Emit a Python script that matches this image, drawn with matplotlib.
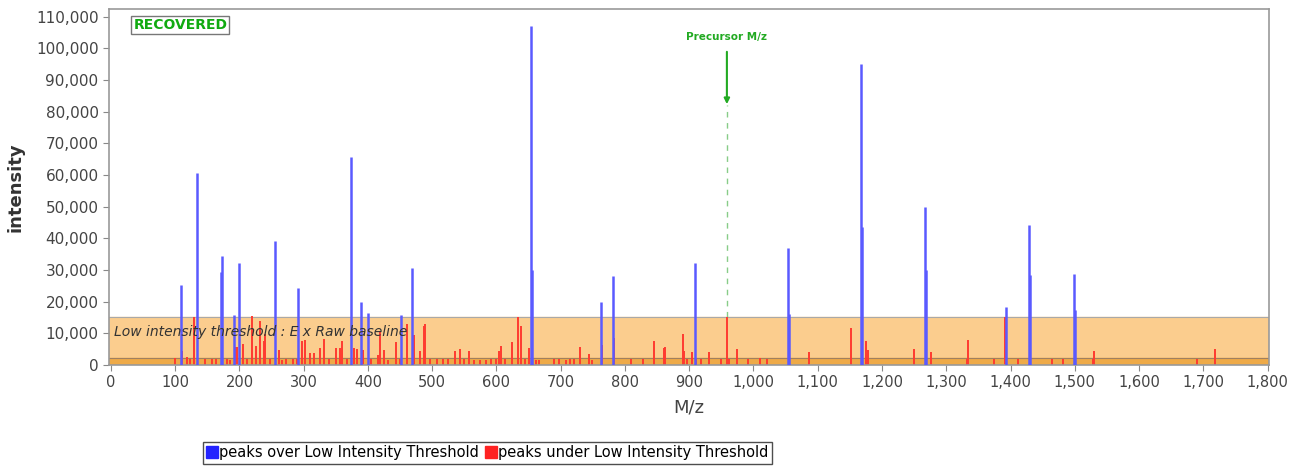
import matplotlib.pyplot as plt
from matplotlib.ticker import FuncFormatter
from matplotlib.lines import Line2D

# peaks above the low intensity threshold (m/z, intensity)
blue_mz = [109, 134, 172, 173.5, 191, 199, 255, 291, 373, 389, 399.5, 452, 469,
           654, 655, 763, 781, 909, 1054, 1055, 1168, 1169, 1267, 1268,
           1393, 1429, 1430, 1499, 1500]
blue_int = [25300, 60700, 29500, 34500, 15800, 32300, 39300, 24200, 65700, 19800, 16400,
            15900, 30700, 107200, 30000, 19900, 28000, 32200, 36800, 16200, 95000, 43700,
            50000, 30000, 18300, 44100, 28300, 28800, 17400]

# peaks below the threshold
red_mz = [99.5, 110, 118, 123, 128.5, 146, 156.5, 164, 180, 185, 193, 196, 205.7, 212,
          219.7, 226.5, 232.7, 237.8, 240.5, 247, 261.7, 266, 272, 283.5, 290, 298, 302.6,
          309, 315.5, 325, 331, 340, 351, 357, 359.5, 368, 377.7, 383.4, 392, 405, 415, 418,
          425, 431, 443, 450, 460, 471, 480.3, 487, 488.6, 496, 507, 517, 524, 536, 542.5,
          549, 556.5, 565, 575, 583, 592, 599.5, 604.7, 606.5, 614, 623.9, 633.2, 638.4, 645,
          650, 656, 661, 666, 690, 698, 708, 714, 721, 730.6, 743.5, 749, 764, 783.5, 810,
          828.6, 844.6, 860, 862, 892.5, 891, 897, 905, 911, 919, 930, 949, 958.6, 962,
          973.6, 991.8, 1010, 1021, 1055, 1086.6, 1151, 1169, 1174.6, 1178.5, 1250, 1269,
          1277, 1332, 1334, 1375, 1391, 1412, 1464, 1482, 1528, 1530, 1691, 1719]
red_int = [2200, 4300, 2500, 1700, 15200, 2000, 1900, 1900, 1800, 1600, 5500, 5500, 6700, 1900,
           15500, 5900, 13900, 7400, 9900, 1800, 4600, 1600, 2000, 2000, 1700, 7600, 7800,
           3900, 3900, 5200, 8100, 1800, 5200, 5400, 7400, 1700, 5200, 5000, 4800, 1800, 3000,
           10800, 4700, 1600, 7100, 1800, 12900, 9300, 4500, 12200, 13000, 1800, 1800, 1700,
           1700, 4500, 5000, 1700, 4500, 1500, 1500, 1500, 1900, 1900, 4500, 6000, 1900,
           7100, 15000, 12300, 1700, 5400, 5200, 1500, 1500, 1900, 1900, 1500, 1800, 1800,
           5500, 3500, 1500, 6200, 8400, 1800, 1900, 7600, 5200, 5700, 4300, 9700, 1800,
           4000, 1900, 1800, 4200, 1800, 15000, 1900, 5100, 1900, 2200, 1800, 1600, 4000,
           11800, 1900, 7600, 4700, 5000, 8400, 4200, 1900, 7900, 1800, 15000, 1800, 1900,
           1800, 1900, 4500, 1700, 5000]

x_ticks = list(range(0, 1801, 100))
y_ticks = list(range(0, 110001, 10000))
threshold = 15200
baseline = 2200
precursor_mz = 958.6

fig = plt.figure(figsize=(12.98, 4.66), dpi=100)
ax = fig.add_axes([0.084, 0.217, 0.894, 0.764])

ax.axhspan(0, threshold, color='#fbcd8e', zorder=0)
ax.axhspan(0, baseline, color='#eeaa48', zorder=0)
ax.axhline(threshold, color='#a9a9a9', lw=0.8, zorder=1)
ax.axhline(baseline, color='#a08060', lw=0.8, zorder=1)

ax.vlines(red_mz, 0, red_int, colors='#ff3b30', lw=1.4, zorder=2)
ax.vlines(blue_mz, 0, blue_int, colors='#5a5aff', lw=1.8, zorder=3)

# precursor marker
ax.plot([precursor_mz, precursor_mz], [threshold, 82000], color='#88cc88', lw=1,
        ls=(0, (4, 4)), zorder=1)
ax.annotate('', xy=(precursor_mz, 81500), xytext=(precursor_mz, 99800),
            arrowprops=dict(arrowstyle='-|>', color='#22aa22', lw=1.5, mutation_scale=8))
ax.text(precursor_mz, 102000, 'Precursor M/z', color='#22aa22', fontsize=7.5,
        ha='center', va='bottom', fontweight='bold')

ax.text(0.021, 0.955, 'RECOVERED', transform=ax.transAxes, color='#11aa11', fontsize=10,
        fontweight='bold', va='center', ha='left',
        bbox=dict(boxstyle='square,pad=0.15', fc='white', ec='#777777', lw=1))
ax.text(5, 10300, 'Low intensity threshold : E x Raw baseline', fontstyle='italic',
        color='#333333', fontsize=10, va='center', ha='left', zorder=4)

ax.set_xlim(-3, 1803)
ax.set_ylim(0, 112500)
ax.set_xticks(x_ticks)
ax.set_yticks(y_ticks)
ax.xaxis.set_major_formatter(FuncFormatter(lambda v, p: f'{int(v):,}'))
ax.yaxis.set_major_formatter(FuncFormatter(lambda v, p: f'{int(v):,}'))
ax.tick_params(axis='both', colors='#888888', labelcolor='#444444', length=4, labelsize=11)
ax.tick_params(axis='x', labelsize=10.5)
for s in ax.spines.values():
    s.set_color('#999999')
    s.set_linewidth(1.2)

ax.set_xlabel('M/z', fontsize=13, color='#444444', labelpad=6)
ax.set_ylabel('intensity', fontsize=13, fontweight='bold', color='#333333', labelpad=8)

handles = [Line2D([], [], marker='s', ls='', color='#2222ff', markersize=8),
           Line2D([], [], marker='s', ls='', color='#ff2222', markersize=8)]
fig.legend(handles, ['peaks over Low Intensity Threshold', 'peaks under Low Intensity Threshold'],
           loc='center', bbox_to_anchor=(0.3755, 0.028), ncol=2, fontsize=10.5, frameon=True,
           fancybox=False, edgecolor='#222222', handletextpad=0.1, columnspacing=0.4,
           borderpad=0.25, handlelength=0.8)

fig.savefig('out.png', dpi=100)
